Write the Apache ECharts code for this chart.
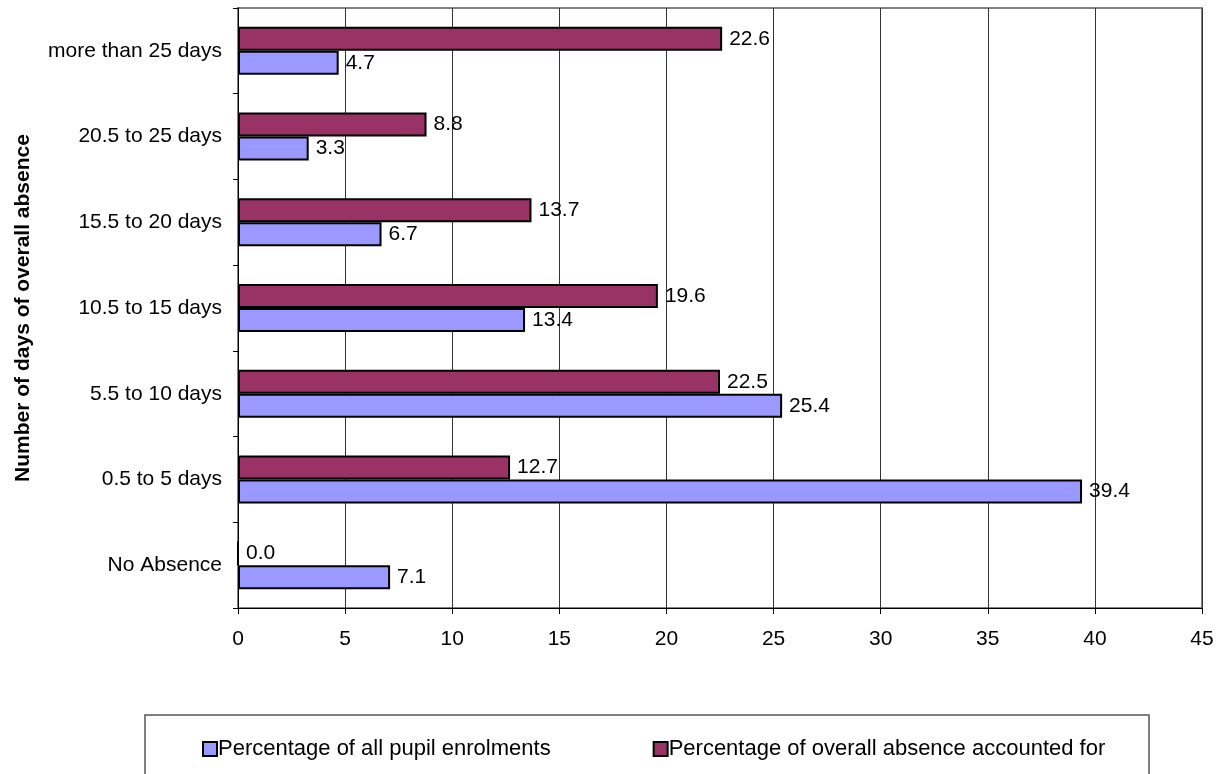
<!DOCTYPE html>
<html>
<head>
<meta charset="utf-8">
<script src="https://cdn.jsdelivr.net/npm/echarts@6/dist/echarts.min.js"></script>
<style>html,body{margin:0;padding:0;background:#fff}#c{width:1218px;height:774px}</style>
</head>
<body>
<div id="c"></div>
<script>
var categories = ['No Absence', '0.5 to 5 days', '5.5 to 10 days', '10.5 to 15 days', '15.5 to 20 days', '20.5 to 25 days', 'more than 25 days'];
var enrolments = [7.1, 39.4, 25.4, 13.4, 6.7, 3.3, 4.7];
var absence = [0.0, 12.7, 22.5, 19.6, 13.7, 8.8, 22.6];
var seriesNames = ['Percentage of all pupil enrolments', 'Percentage of overall absence accounted for'];
var yTitle = 'Number of days of overall absence';

var chart = echarts.init(document.getElementById('c'), null, {renderer: 'canvas'});
var font = 'Liberation Sans, Arial, sans-serif';
var fs = 21;
var lbl = {show: true, position: 'right', distance: 7, color: '#000', fontSize: fs, fontFamily: font,
  formatter: function (p) { return p.value.toFixed(1); }};
chart.setOption({
  animation: false,
  backgroundColor: '#fff',
  grid: {left: 238, right: 16, top: 8, bottom: 166, show: true, borderColor: '#808080', borderWidth: 2},
  xAxis: {
    type: 'value', min: 0, max: 45, interval: 5,
    axisLine: {show: true, lineStyle: {color: '#000', width: 1}},
    axisTick: {show: true, length: 6, lineStyle: {color: '#000'}},
    axisLabel: {color: '#000', fontSize: fs, fontFamily: font, margin: 21},
    splitLine: {show: true, lineStyle: {color: '#333', width: 1}}
  },
  yAxis: {
    type: 'category', data: categories,
    name: yTitle, nameLocation: 'middle', nameGap: 204, nameRotate: 90,
    nameTextStyle: {color: '#000', fontSize: fs, fontWeight: 'bold', fontFamily: font},
    axisLine: {show: true, lineStyle: {color: '#000', width: 1}},
    axisTick: {show: true, length: 5, lineStyle: {color: '#000'}},
    axisLabel: {color: '#000', fontSize: fs, fontFamily: font, margin: 16},
    splitLine: {show: false}
  },
  legend: {
    left: 197, top: 733, itemGap: 102, itemWidth: 14, itemHeight: 14,
    icon: 'rect',
    textStyle: {color: '#000', fontSize: 22, fontFamily: font, padding: [0, 0, 0, -4]},
    data: [
      {name: seriesNames[0], itemStyle: {color: '#9999FF', borderColor: '#000', borderWidth: 2}},
      {name: seriesNames[1], itemStyle: {color: '#993366', borderColor: '#000', borderWidth: 2}}
    ]
  },
  graphic: [{type: 'rect', shape: {x: 145, y: 715, width: 1004, height: 80},
    style: {fill: 'none', stroke: '#555', lineWidth: 1.5}}],
  series: [
    {name: seriesNames[1], type: 'bar', data: absence, barWidth: 24, barGap: '0%',
      itemStyle: {color: '#993366', borderColor: '#000', borderWidth: 2}, label: lbl},
    {name: seriesNames[0], type: 'bar', data: enrolments, barWidth: 24, barGap: '0%',
      itemStyle: {color: '#9999FF', borderColor: '#000', borderWidth: 2}, label: lbl}
  ]
});
</script>
</body>
</html>
